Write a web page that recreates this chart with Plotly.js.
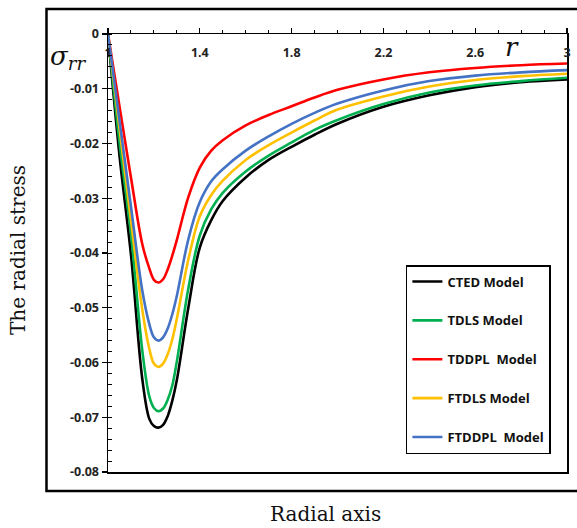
<!DOCTYPE html>
<html>
<head>
<meta charset="utf-8">
<script src="https://cdn.plot.ly/plotly-3.0.1.min.js"></script>
<style>
  html, body { margin: 0; padding: 0; background: #fff; }
  #chart { width: 577px; height: 528px; }
</style>
</head>
<body>
<div id="chart"></div>
<script>
// Radial coordinate r
const rValues = [1, 1.05, 1.1, 1.15, 1.18, 1.2, 1.22, 1.24, 1.26, 1.28, 1.3, 1.35, 1.4, 1.45, 1.5, 1.6, 1.7, 1.8, 1.9, 2.0, 2.2, 2.4, 2.6, 2.8, 3.0];

// Radial stress sigma_rr for each model
const ctedModel   = [0, -0.0222, -0.0403, -0.0632, -0.0703, -0.0716, -0.0719, -0.0714, -0.0698, -0.0670, -0.0632, -0.0500, -0.0390, -0.0340, -0.0305, -0.0262, -0.0230, -0.0206, -0.0184, -0.0164, -0.0133, -0.0112, -0.0097, -0.0088, -0.0083];
const tdlsModel   = [0, -0.0198, -0.0365, -0.0580, -0.0662, -0.0683, -0.0689, -0.0684, -0.0668, -0.0642, -0.0598, -0.0465, -0.0368, -0.0320, -0.0290, -0.0251, -0.0222, -0.0198, -0.0175, -0.0157, -0.0128, -0.0107, -0.0094, -0.0086, -0.0080];
const tddplModel  = [0, -0.0132, -0.0262, -0.0385, -0.0428, -0.0449, -0.0454, -0.0448, -0.0430, -0.0405, -0.0376, -0.0298, -0.0244, -0.0213, -0.0194, -0.0167, -0.0148, -0.0132, -0.0116, -0.0102, -0.0083, -0.0070, -0.0062, -0.0057, -0.0054];
const ftdlsModel  = [0, -0.0172, -0.0340, -0.0505, -0.0575, -0.0602, -0.0608, -0.0602, -0.0585, -0.0558, -0.0520, -0.0412, -0.0333, -0.0294, -0.0268, -0.0230, -0.0203, -0.0180, -0.0158, -0.0138, -0.0114, -0.0096, -0.0084, -0.0077, -0.00725];
const ftddplModel = [0, -0.0158, -0.0315, -0.0470, -0.0530, -0.0554, -0.0560, -0.0554, -0.0538, -0.0512, -0.0478, -0.0375, -0.0307, -0.0269, -0.0247, -0.0213, -0.0187, -0.0164, -0.0144, -0.0127, -0.0103, -0.0086, -0.0076, -0.0070, -0.0066];

const seriesNames = ['CTED Model', 'TDLS Model', 'TDDPL\u00A0 Model', 'FTDLS Model', 'FTDDPL\u00A0 Model'];

// Axis ticks
const xTickVals = [1, 1.4, 1.8, 2.2, 2.6, 3];
const xTickText = ['1', '1.4', '1.8', '2.2', '2.6', '3'];
const yTickVals = [0, -0.01, -0.02, -0.03, -0.04, -0.05, -0.06, -0.07, -0.08];
const yTickText = ['0', '-0.01', '-0.02', '-0.03', '-0.04', '-0.05', '-0.06', '-0.07', '-0.08'];

const seriesData = [ctedModel, tdlsModel, tddplModel, ftdlsModel, ftddplModel];
const seriesColors = ['#000000', '#00b050', '#ff0000', '#ffc000', '#4472c4'];

const traces = seriesData.map((ys, i) => ({
  x: rValues,
  y: ys,
  type: 'scatter',
  mode: 'lines',
  name: seriesNames[i],
  legendgroup: 'g' + i,
  line: { color: seriesColors[i], width: 2.6, shape: 'spline', smoothing: 1 }
}));

const tickFont = { family: 'Open Sans, sans-serif', size: 12.5, color: '#222', weight: 'bold' };

const layout = {
  width: 577,
  height: 528,
  margin: { l: 108, r: 10, t: 34, b: 56 },
  paper_bgcolor: '#ffffff',
  plot_bgcolor: '#ffffff',
  showlegend: true,
  legend: {
    x: 0.649, y: 0.4726, xanchor: 'left', yanchor: 'top',
    bgcolor: '#ffffff', bordercolor: '#000000', borderwidth: 1.5,
    font: { family: 'Open Sans, sans-serif', size: 13, color: '#111', weight: 'bold' },
    tracegroupgap: 19,
    itemwidth: 30,
    traceorder: 'grouped'
  },
  xaxis: {
    range: [1, 3],
    side: 'top',
    tickmode: 'array',
    tickvals: xTickVals,
    ticktext: xTickText,
    ticks: 'outside',
    ticklen: 5,
    tickwidth: 1.3,
    tickcolor: '#000',
    ticklabelposition: 'inside',
    ticklabeloverflow: 'allow',
    ticklabelstandoff: 14,
    tickfont: tickFont,
    minor: { tickmode: 'linear', tick0: 1, dtick: 0.1, ticks: 'outside', ticklen: 3, tickwidth: 1, tickcolor: '#000' },
    showline: true,
    linecolor: '#000',
    linewidth: 1.5,
    mirror: true,
    showgrid: false,
    zeroline: false,
    fixedrange: true
  },
  yaxis: {
    range: [-0.08, 0],
    tickmode: 'array',
    tickvals: yTickVals,
    ticktext: yTickText,
    ticks: 'outside',
    ticklen: 5,
    tickwidth: 1.3,
    tickcolor: '#000',
    tickfont: tickFont,
    minor: { tickmode: 'linear', tick0: 0, dtick: 0.002, ticks: 'inside', ticklen: 4, tickwidth: 1, tickcolor: '#000' },
    showline: true,
    linecolor: '#000',
    linewidth: 1.5,
    mirror: true,
    showgrid: false,
    zeroline: false,
    fixedrange: true
  },
  shapes: [
    {
      type: 'rect', xref: 'paper', yref: 'paper',
      x0: -0.134, x1: 1.03, y0: -0.0434, y1: 1.0571,
      line: { color: '#000', width: 2.5 }, fillcolor: 'rgba(0,0,0,0)', layer: 'below'
    }
  ],
  annotations: [
    {
      text: 'Radial axis', xref: 'paper', yref: 'paper',
      x: (325 - 108) / 459, y: (472 - 514) / 438, xanchor: 'center', yanchor: 'middle',
      showarrow: false, font: { family: 'DejaVu Serif, serif', size: 20, color: '#111' }
    },
    {
      text: 'The radial stress', xref: 'paper', yref: 'paper', textangle: -90,
      x: (18 - 108) / 459, y: (472 - 250) / 438, xanchor: 'center', yanchor: 'middle',
      showarrow: false, font: { family: 'DejaVu Serif, serif', size: 20, color: '#111' }
    },
    {
      text: '<i>σ<sub>rr</sub></i>', xref: 'paper', yref: 'paper',
      x: (68 - 108) / 459, y: (472 - 57) / 438, xanchor: 'center', yanchor: 'middle',
      showarrow: false, font: { family: 'DejaVu Serif, serif', size: 26, color: '#111' }
    },
    {
      text: '<i>r</i>', xref: 'paper', yref: 'paper',
      x: (512 - 108) / 459, y: (472 - 47) / 438, xanchor: 'center', yanchor: 'middle',
      showarrow: false, font: { family: 'DejaVu Serif, serif', size: 26, color: '#111' }
    }
  ]
};

Plotly.newPlot('chart', traces, layout, { displayModeBar: false, staticPlot: true });
</script>
</body>
</html>
